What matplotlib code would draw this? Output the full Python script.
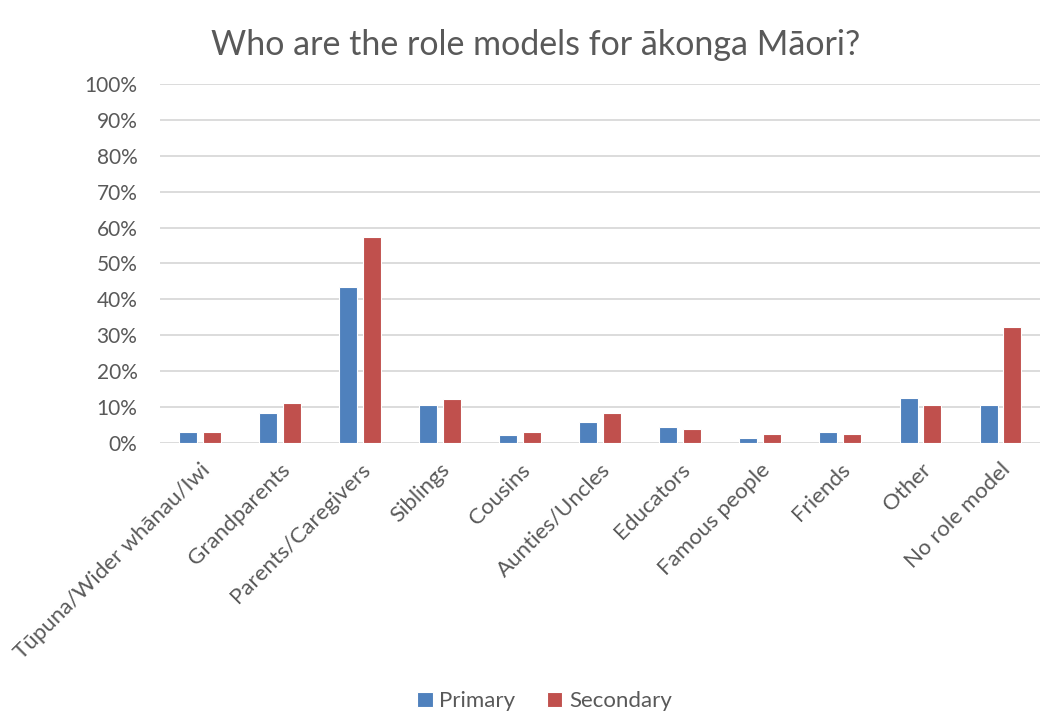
import numpy as np
import matplotlib as mpl
mpl.use('Agg')
import matplotlib.pyplot as plt
from matplotlib.ticker import PercentFormatter

plt.rcParams['font.family'] = ['Lato', 'DejaVu Sans']

categories = ['Tūpuna/Wider whānau/Iwi', 'Grandparents', 'Parents/Caregivers',
              'Siblings', 'Cousins', 'Aunties/Uncles', 'Educators',
              'Famous people', 'Friends', 'Other', 'No role model']
primary = [3.2, 8.3, 43.4, 10.6, 2.3, 5.8, 4.4, 1.3, 3.2, 12.5, 10.6]
secondary = [3.2, 11.3, 57.3, 12.4, 3.2, 8.4, 3.9, 2.4, 2.4, 10.6, 32.2]

fig = plt.figure(figsize=(10.51, 7.17), dpi=100)
ax = fig.add_axes([0.152, 0.382, 0.838, 0.501])

ind = np.arange(len(categories))
w = 0.225
ax.bar(ind - 0.148, primary, w, color='#4F81BD', edgecolor='white', linewidth=0.8,
       label='Primary', zorder=3)
ax.bar(ind + 0.148, secondary, w, color='#C0504D', edgecolor='white', linewidth=0.8,
       label='Secondary', zorder=3)

ax.set_xlim(-0.5, len(categories) - 0.5)
ax.set_ylim(0, 100)
ax.set_yticks(np.arange(0, 101, 10))
ax.yaxis.set_major_formatter(PercentFormatter(decimals=0))
ax.yaxis.grid(True, color='#d9d9d9', linewidth=1.3, zorder=0)
for s in ax.spines.values():
    s.set_visible(False)
ax.tick_params(axis='both', length=0, labelsize=15, colors='#595959')
ax.tick_params(axis='y', pad=16)
ax.tick_params(axis='x', pad=12, labelsize=16)
ax.set_xticks(ind)
ax.set_xticklabels(categories, rotation=45, ha='right', rotation_mode='anchor')

fig.text(0.51, 0.937, 'Who are the role models for ākonga Māori?', fontsize=24.5,
         color='#595959', ha='center', va='center')

fig.legend(loc='lower center', ncol=2, frameon=False, fontsize=16,
           bbox_to_anchor=(0.518, -0.02), handlelength=0.7, handleheight=0.7,
           columnspacing=1.4, handletextpad=0.3, labelcolor='#595959')

plt.savefig('out.png')
